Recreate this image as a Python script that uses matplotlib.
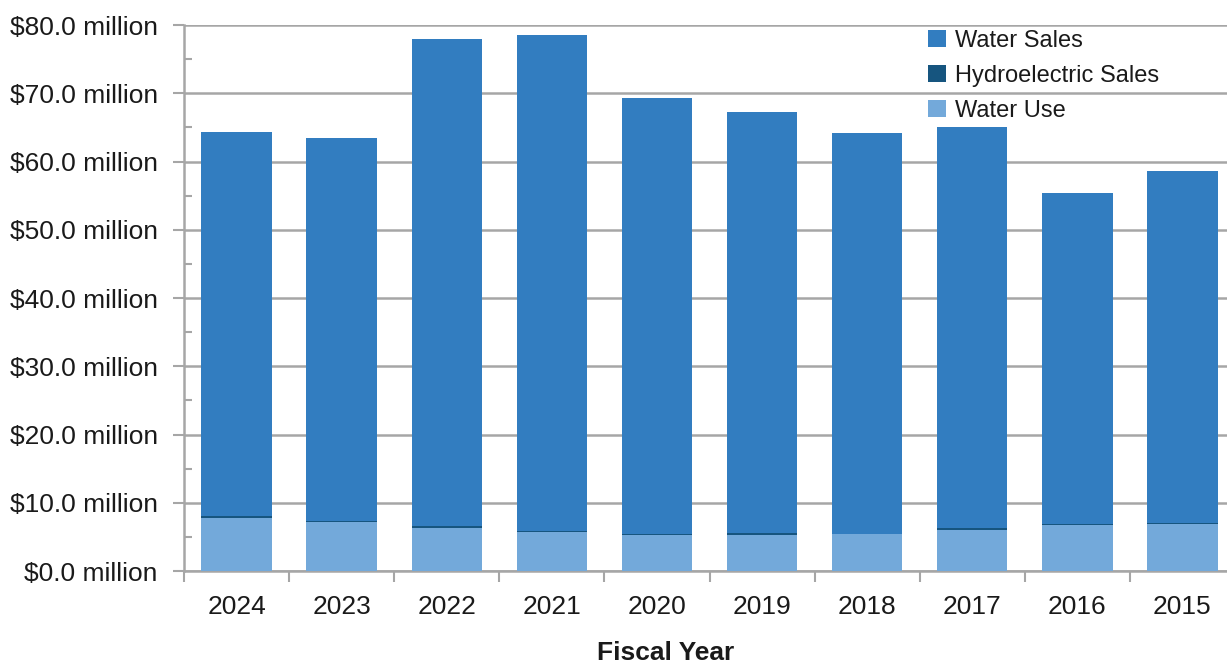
import matplotlib.pyplot as plt
import matplotlib.ticker as mticker
import numpy as np

plt.rcParams["font.family"] = ["Liberation Sans", "DejaVu Sans"]

# Revenue by fiscal year, $ million
years = ["2024", "2023", "2022", "2021", "2020", "2019", "2018", "2017", "2016", "2015"]
water_use = [7.8, 7.2, 6.35, 5.75, 5.3, 5.25, 5.45, 6.05, 6.8, 6.95]
hydro_sales = [0.3, 0.15, 0.3, 0.15, 0.15, 0.3, 0.05, 0.3, 0.15, 0.15]
totals = [64.3, 63.4, 77.9, 78.5, 69.3, 67.3, 64.2, 65.1, 55.4, 58.6]
water_sales = [t - u - h for t, u, h in zip(totals, water_use, hydro_sales)]

C_SALES = "#327DC0"
C_HYDRO = "#16557F"
C_USE = "#73A9DA"
GRID = "#A6A6A6"
TXT = "#1a1a1a"

fig = plt.figure(figsize=(12.27, 6.64), dpi=100)
ax = fig.add_axes([0.15, 0.14, 0.8565, 0.8223])

x = np.arange(len(years))
w = 0.67
use = np.array(water_use)
hyd = np.array(hydro_sales)
ax.bar(x, water_use, w, color=C_USE, label="Water Use", zorder=3)
ax.bar(x, hydro_sales, w, bottom=use, color=C_HYDRO, label="Hydroelectric Sales", zorder=3)
ax.bar(x, water_sales, w, bottom=use + hyd, color=C_SALES, label="Water Sales", zorder=3)

ax.set_xlim(-0.5, len(years) - 0.5)
ax.set_ylim(0, 80)

ax.yaxis.set_major_locator(mticker.MultipleLocator(10))
ax.yaxis.set_minor_locator(mticker.MultipleLocator(5))
ax.yaxis.set_major_formatter(mticker.FuncFormatter(lambda v, pos: f"${v:.1f} million"))
ax.tick_params(axis="y", which="major", length=8, width=1.5, color=GRID, direction="out",
               labelsize=19, labelcolor=TXT, pad=11)
ax.tick_params(axis="y", which="minor", length=6, width=1.5, color=GRID, direction="in")

ax.set_xticks(x)
ax.set_xticklabels(years)
ax.set_xticks(np.arange(len(years) + 1) - 0.5, minor=True)
ax.tick_params(axis="x", which="major", length=0, labelsize=19, labelcolor=TXT, pad=17)
ax.tick_params(axis="x", which="minor", length=8, width=1.5, color=GRID, direction="out")

ax.grid(axis="y", which="major", color=GRID, linewidth=1.8, zorder=0)
ax.set_axisbelow(True)

for side in ["top", "right"]:
    ax.spines[side].set_visible(False)
for side in ["left", "bottom"]:
    ax.spines[side].set_color(GRID)
    ax.spines[side].set_linewidth(1.8)

ax.set_xlabel("Fiscal Year", fontsize=19, fontweight="bold", color=TXT)
ax.xaxis.set_label_coords(0.458, -0.128)

handles, labels = ax.get_legend_handles_labels()
order = [2, 1, 0]
ax.legend([handles[i] for i in order], [labels[i] for i in order],
          loc="upper left", bbox_to_anchor=(0.688, 1.03), frameon=False, fontsize=17,
          handlelength=0.75, handleheight=0.75, handletextpad=0.4, labelspacing=0.55,
          labelcolor=TXT)

fig.savefig("out.png", dpi=100)
